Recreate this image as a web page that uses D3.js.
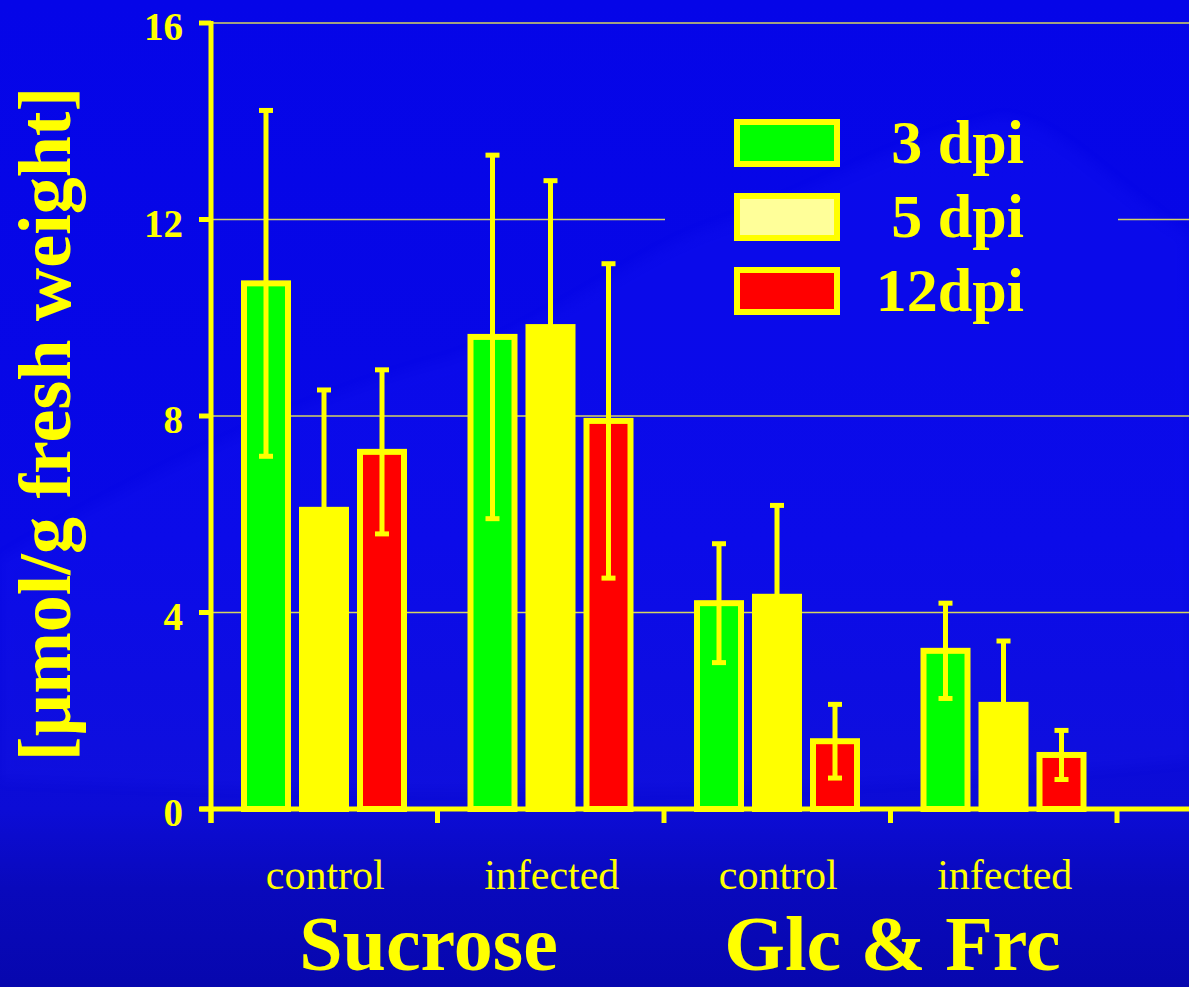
<!DOCTYPE html>
<html>
<head>
<meta charset="utf-8">
<script src="https://cdn.jsdelivr.net/npm/d3@7/dist/d3.min.js"></script>
<style>
  html, body { margin: 0; padding: 0; background: #0606e6; overflow: hidden; }
  svg { display: block; }
  text { font-family: "Liberation Serif", "Times New Roman", serif; fill: #ffff00; }
</style>
</head>
<body>
<svg id="chart" width="1189" height="987"></svg>
<script>
// ---------- data ----------
const groups = ["Sucrose control", "Sucrose infected", "Glc & Frc control", "Glc & Frc infected"];
const groupLabels = ["control", "infected", "control", "infected"];
const sugars = ["Sucrose", "Glc & Frc"];
const series = ["3 dpi", "5 dpi", "12dpi"];
const dpi3  = [10.70, 9.61, 4.19, 3.22];
const sd3   = [3.52, 3.70, 1.21, 0.97];
const dpi5  = [6.09, 9.81, 4.32, 2.12];
const sd5   = [2.44, 2.98, 1.86, 1.30];
const dpi12 = [7.27, 7.90, 1.38, 1.10];
const sd12  = [1.67, 3.20, 0.75, 0.50];
const yTicks = [0, 4, 8, 12, 16];
const yLabel = "[µmol/g fresh weight]";

const seriesColors = ["#00ff00", "#ffff00", "#ff0000"];
const legendColors = ["#00ff00", "#ffff99", "#ff0000"];
const means = [dpi3, dpi5, dpi12];
const sds = [sd3, sd5, sd12];

const W = 1189, H = 987;
const svg = d3.select("#chart");
const YEL = "#ffff00";

// ---------- background ----------
const defs = svg.append("defs");
const bg = defs.append("linearGradient").attr("id", "bg")
  .attr("gradientUnits", "userSpaceOnUse")
  .attr("x1", 0).attr("y1", 0).attr("x2", 0).attr("y2", H);
[[0, "#0505e8"], [0.55, "#0808e6"], [0.82, "#0c0cd6"], [0.9, "#0909bc"], [1, "#0707ae"]]
  .forEach(([o, c]) => bg.append("stop").attr("offset", o).attr("stop-color", c));
defs.append("filter").attr("id", "blur").append("feGaussianBlur").attr("stdDeviation", 6);

// mask hiding gridlines behind the legend
const mask = defs.append("mask").attr("id", "legendMask").attr("maskUnits", "userSpaceOnUse")
  .attr("x", 0).attr("y", 0).attr("width", W).attr("height", H);
mask.append("rect").attr("width", W).attr("height", H).attr("fill", "white");
mask.append("rect").attr("x", 665).attr("y", 60).attr("width", 453).attr("height", 290).attr("fill", "black");

svg.append("rect").attr("width", W).attr("height", H).attr("fill", "url(#bg)");
// faint lighter cloud region
svg.append("path")
  .attr("d", "M0,560 C150,470 330,390 450,360 C560,320 640,250 720,225 C820,190 900,140 1000,118 C1060,120 1100,180 1189,235 L1189,760 C900,790 500,800 0,780 Z")
  .attr("fill", "#2424ff").attr("opacity", 0.14).attr("filter", "url(#blur)");

// ---------- scales ----------
const x0 = d3.scaleBand().domain(groups).range([211, 1117]).padding(0);
const x1 = d3.scaleBand().domain(series).range([30, 196]).paddingInner(8 / 58).paddingOuter(0);
const y = d3.scaleLinear().domain([0, 16]).range([809, 23]);

// ---------- gridlines ----------
svg.append("g").attr("mask", "url(#legendMask)")
  .selectAll("line").data(yTicks.filter(t => t > 0)).join("line")
  .attr("x1", 211).attr("x2", W)
  .attr("y1", d => y(d)).attr("y2", d => y(d))
  .attr("stroke", "#d6d660").attr("stroke-width", 1.5);

// ---------- bars ----------
const barData = [];
groups.forEach((g, gi) => {
  series.forEach((s, si) => {
    barData.push({ g, s, si, v: means[si][gi], e: sds[si][gi] });
  });
});
const strokeW = 6;
svg.append("g").selectAll("rect").data(barData).join("rect")
  .attr("x", d => x0(d.g) + x1(d.s) + strokeW / 2)
  .attr("width", x1.bandwidth() - strokeW)
  .attr("y", d => y(d.v))
  .attr("height", d => y(0) - y(d.v))
  .attr("fill", d => seriesColors[d.si])
  .attr("stroke", YEL).attr("stroke-width", strokeW);

// ---------- error bars ----------
const errG = svg.append("g").attr("stroke", YEL);
const cx = d => x0(d.g) + x1(d.s) + x1.bandwidth() / 2;
errG.selectAll("line.v").data(barData).join("line").attr("class", "v")
  .attr("x1", cx).attr("x2", cx)
  .attr("y1", d => y(d.v + d.e)).attr("y2", d => y(Math.max(0, d.v - d.e)))
  .attr("stroke-width", 5);
errG.selectAll("line.ct").data(barData).join("line").attr("class", "ct")
  .attr("x1", d => cx(d) - 7).attr("x2", d => cx(d) + 7)
  .attr("y1", d => y(d.v + d.e)).attr("y2", d => y(d.v + d.e))
  .attr("stroke-width", 5);
errG.selectAll("line.cb").data(barData).join("line").attr("class", "cb")
  .attr("x1", d => cx(d) - 7).attr("x2", d => cx(d) + 7)
  .attr("y1", d => y(d.v - d.e)).attr("y2", d => y(d.v - d.e))
  .attr("stroke-width", 5);

// ---------- axes ----------
const axG = svg.append("g").attr("stroke", YEL).attr("stroke-width", 5);
axG.append("line").attr("x1", 211).attr("x2", 211).attr("y1", y(16) - 2).attr("y2", y(0) + 14);
axG.append("line").attr("x1", 200).attr("x2", W).attr("y1", y(0)).attr("y2", y(0));
axG.selectAll("line.yt").data(yTicks).join("line").attr("class", "yt")
  .attr("x1", 199).attr("x2", 211).attr("y1", d => y(d)).attr("y2", d => y(d));
const xTickPos = groups.map(g => x0(g)).concat([x0(groups[groups.length - 1]) + x0.bandwidth()]);
axG.selectAll("line.xt").data(xTickPos).join("line").attr("class", "xt")
  .attr("x1", d => d).attr("x2", d => d).attr("y1", y(0)).attr("y2", y(0) + 14);

// y tick labels
svg.append("g").selectAll("text").data(yTicks).join("text")
  .attr("x", 183).attr("y", d => y(d) + 17)
  .attr("text-anchor", "end").attr("font-size", 39).attr("font-weight", "bold")
  .text(d => d);

// y axis title
svg.append("text")
  .attr("transform", "translate(70,424) rotate(-90)")
  .attr("text-anchor", "middle").attr("font-size", 74).attr("font-weight", "bold")
  .text(yLabel);

// group labels
svg.append("g").selectAll("text").data(groups).join("text")
  .attr("x", g => x0(g) + x0.bandwidth() / 2 + 1)
  .attr("y", 889)
  .attr("text-anchor", "middle").attr("font-size", 42)
  .text((g, i) => groupLabels[i]);

// sugar labels
const sugarOffsets = [-9, 2];
svg.append("g").selectAll("text").data(sugars).join("text")
  .attr("x", (s, i) => x0(groups[i * 2]) + x0.bandwidth() + sugarOffsets[i])
  .attr("y", 970)
  .attr("text-anchor", "middle").attr("font-size", 78).attr("font-weight", "bold")
  .text(d => d);

// ---------- legend ----------
const lg = svg.append("g").selectAll("g").data(series).join("g")
  .attr("transform", (d, i) => `translate(737,${122 + i * 74})`);
lg.append("rect").attr("width", 100).attr("height", 42)
  .attr("fill", (d, i) => legendColors[i])
  .attr("stroke", YEL).attr("stroke-width", 6);
lg.append("text").attr("x", 287).attr("y", 41)
  .attr("text-anchor", "end").attr("font-size", 62).attr("font-weight", "bold")
  .text(d => d);
</script>
</body>
</html>
